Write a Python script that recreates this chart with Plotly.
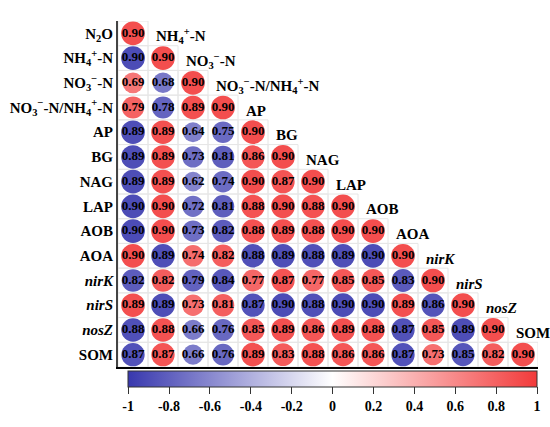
import plotly.graph_objects as go

# variables (rows / columns of the lower-triangle matrix)
labels = [
    "N<sub>2</sub>O",
    "NH<sub>4</sub><sup>+</sup>-N",
    "NO<sub>3</sub><sup>\u2212</sup>-N",
    "NO<sub>3</sub><sup>\u2212</sup>-N/NH<sub>4</sub><sup>+</sup>-N",
    "AP", "BG", "NAG", "LAP", "AOB", "AOA",
    "<i>nirK</i>", "<i>nirS</i>", "<i>nosZ</i>", "SOM",
]

# signed correlations, row i holds columns 0..i
corr_rows = [
    [0.90],
    [-0.90, 0.90],
    [0.69, -0.68, 0.90],
    [0.79, -0.78, 0.89, 0.90],
    [-0.89, 0.89, -0.64, -0.75, 0.90],
    [-0.89, 0.89, -0.73, -0.81, 0.86, 0.90],
    [-0.89, 0.89, -0.62, -0.74, 0.90, 0.87, 0.90],
    [-0.90, 0.90, -0.72, -0.81, 0.88, 0.90, 0.88, 0.90],
    [-0.90, 0.90, -0.73, -0.82, 0.88, 0.89, 0.88, 0.90, 0.90],
    [0.90, -0.89, 0.74, 0.82, -0.88, -0.89, -0.88, -0.89, -0.90, 0.90],
    [-0.82, 0.82, -0.79, -0.84, 0.77, 0.87, 0.77, 0.85, 0.85, -0.83, 0.90],
    [0.89, -0.89, 0.73, 0.81, -0.87, -0.90, -0.88, -0.90, -0.90, 0.89, -0.86, 0.90],
    [-0.88, 0.88, -0.66, -0.76, 0.85, 0.89, 0.86, 0.89, 0.88, -0.87, 0.85, -0.89, 0.90],
    [-0.87, 0.87, -0.66, -0.76, 0.89, 0.83, 0.88, 0.86, 0.86, -0.87, 0.73, -0.85, 0.82, 0.90],
]

cbar_ticks = [-1, -0.8, -0.6, -0.4, -0.2, 0, 0.2, 0.4, 0.6, 0.8, 1]
cbar_text = ["-1", "-0.8", "-0.6", "-0.4", "-0.2", "0", "0.2", "0.4", "0.6", "0.8", "1"]

FONT = "Liberation Serif"

xs, ys, vals = [], [], []
for i, row in enumerate(corr_rows):
    for j, v in enumerate(row):
        xs.append(j)
        ys.append(i)
        vals.append(v)

sizes = [25 * abs(v) ** 0.5 for v in vals]
texts = ["<b>%.2f</b>" % abs(v) for v in vals]

fig = go.Figure()

# faint cell borders in the lower triangle
for i, row in enumerate(corr_rows):
    for j in range(len(row)):
        fig.add_shape(type="rect", x0=j - 0.5, x1=j + 0.5, y0=i - 0.5, y1=i + 0.5,
                      line=dict(color="#E6E6E6", width=1), layer="below")

fig.add_trace(go.Scatter(
    x=xs, y=ys, mode="markers+text",
    text=texts,
    textfont=dict(family=FONT, size=13, color="black"),
    marker=dict(
        size=sizes, color=vals, cmin=-1, cmax=1, opacity=1,
        colorscale=[[0, "#3838AE"], [0.5, "#FFFFFF"], [1, "#F23A3A"]],
        line=dict(width=0),
        colorbar=dict(
            orientation="h", x=0.511, xanchor="center", y=-0.012, yanchor="top",
            lenmode="pixels", len=409, thickness=16, xpad=0, ypad=0,
            outlinewidth=1, outlinecolor="#333",
            tickvals=cbar_ticks, ticktext=cbar_text,
            ticks="outside", ticklen=7, tickcolor="#333",
            tickfont=dict(family=FONT, size=14, color="black", weight="bold"),
        ),
    ),
    hoverinfo="skip", showlegend=False, cliponaxis=False,
))

# column labels along the diagonal
for j, lab in enumerate(labels):
    fig.add_annotation(
        x=j - 0.3 if j else 0.3, y=j - 1, xref="x", yref="y",
        text="<b>%s</b>" % lab, showarrow=False,
        xanchor="left" if j else "center", yanchor="middle", yshift=-3,
        font=dict(family=FONT, size=15, color="black"),
    )

fig.update_xaxes(range=[-0.5, 13.5], showgrid=False, zeroline=False,
                 showticklabels=False, ticks="", showline=True,
                 linecolor="black", linewidth=1.5, fixedrange=True,
                 automargin=False)
fig.update_yaxes(range=[13.5, -0.5], showgrid=False, zeroline=False,
                 tickvals=list(range(len(labels))),
                 ticktext=["<b>%s</b>" % lab for lab in labels],
                 tickfont=dict(family=FONT, size=15, color="black"),
                 ticks="", showline=True, linecolor="#444", linewidth=2,
                 fixedrange=True, automargin=False)

fig.update_layout(
    width=550, height=427,
    margin=dict(l=118, r=12, t=21, b=50),
    paper_bgcolor="white", plot_bgcolor="white",
)

fig.write_html("out.html", config={"displayModeBar": False},
               post_script="document.body.style.margin='0';")
